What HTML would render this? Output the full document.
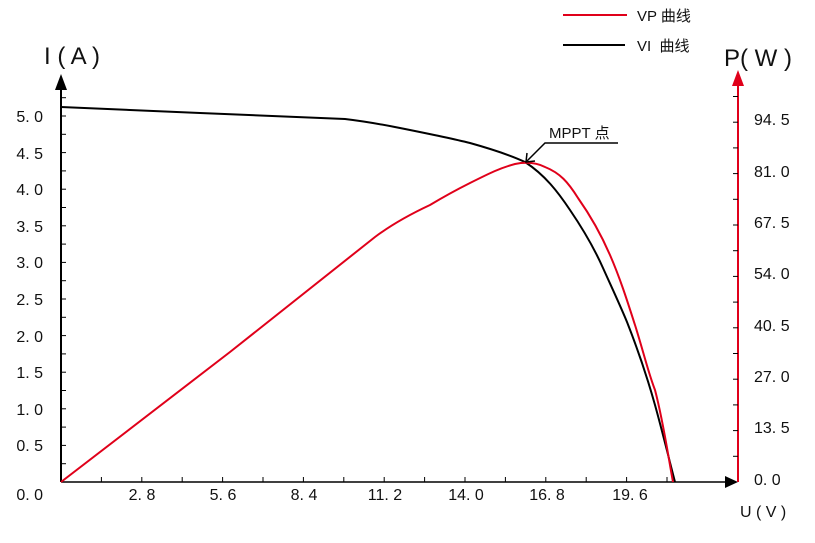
<!DOCTYPE html>
<html><head><meta charset="utf-8"><style>
body{margin:0;background:#fff;}
svg text{font-family:"Liberation Sans","Noto Sans CJK SC",sans-serif;fill:#111;}
</style></head><body>
<svg width="815" height="538" viewBox="0 0 815 538" xmlns="http://www.w3.org/2000/svg">
<g id="ticks"></g>
<!-- left axis -->
<line x1="61" y1="482" x2="61" y2="88" stroke="#000" stroke-width="2"/>
<polygon points="61,74 55,90 67,90" fill="#000"/>
<!-- x axis -->
<line x1="61" y1="482" x2="726" y2="482" stroke="#000" stroke-width="1.5"/>
<polygon points="738,482 725,476 725,488" fill="#000"/>
<!-- right axis -->
<line x1="738" y1="482" x2="738" y2="86" stroke="#e0001a" stroke-width="2"/>
<polygon points="738,70 732,86 744,86" fill="#e0001a"/>
<g stroke="#000" stroke-width="1">
<line x1="61" y1="463.7" x2="66" y2="463.7"/><line x1="61" y1="445.4" x2="66" y2="445.4"/><line x1="61" y1="427.1" x2="66" y2="427.1"/><line x1="61" y1="408.8" x2="66" y2="408.8"/><line x1="61" y1="390.5" x2="66" y2="390.5"/><line x1="61" y1="372.2" x2="66" y2="372.2"/><line x1="61" y1="353.9" x2="66" y2="353.9"/><line x1="61" y1="335.6" x2="66" y2="335.6"/><line x1="61" y1="317.3" x2="66" y2="317.3"/><line x1="61" y1="299" x2="66" y2="299"/><line x1="61" y1="280.7" x2="66" y2="280.7"/><line x1="61" y1="262.4" x2="66" y2="262.4"/><line x1="61" y1="244.1" x2="66" y2="244.1"/><line x1="61" y1="225.8" x2="66" y2="225.8"/><line x1="61" y1="207.5" x2="66" y2="207.5"/><line x1="61" y1="189.2" x2="66" y2="189.2"/><line x1="61" y1="170.9" x2="66" y2="170.9"/><line x1="61" y1="152.6" x2="66" y2="152.6"/><line x1="61" y1="134.3" x2="66" y2="134.3"/><line x1="61" y1="116" x2="66" y2="116"/><line x1="61" y1="97.7" x2="66" y2="97.7"/>
<line x1="101.4" y1="482" x2="101.4" y2="477"/><line x1="141.8" y1="482" x2="141.8" y2="477"/><line x1="182.2" y1="482" x2="182.2" y2="477"/><line x1="222.6" y1="482" x2="222.6" y2="477"/><line x1="263" y1="482" x2="263" y2="477"/><line x1="303.4" y1="482" x2="303.4" y2="477"/><line x1="343.8" y1="482" x2="343.8" y2="477"/><line x1="384.2" y1="482" x2="384.2" y2="477"/><line x1="424.6" y1="482" x2="424.6" y2="477"/><line x1="465" y1="482" x2="465" y2="477"/><line x1="505.4" y1="482" x2="505.4" y2="477"/><line x1="545.8" y1="482" x2="545.8" y2="477"/><line x1="586.2" y1="482" x2="586.2" y2="477"/><line x1="626.6" y1="482" x2="626.6" y2="477"/><line x1="667" y1="482" x2="667" y2="477"/>
<line x1="738" y1="456.3" x2="733" y2="456.3"/><line x1="738" y1="430.6" x2="733" y2="430.6"/><line x1="738" y1="404.9" x2="733" y2="404.9"/><line x1="738" y1="379.2" x2="733" y2="379.2"/><line x1="738" y1="353.5" x2="733" y2="353.5"/><line x1="738" y1="327.8" x2="733" y2="327.8"/><line x1="738" y1="302.1" x2="733" y2="302.1"/><line x1="738" y1="276.4" x2="733" y2="276.4"/><line x1="738" y1="250.7" x2="733" y2="250.7"/><line x1="738" y1="225" x2="733" y2="225"/><line x1="738" y1="199.3" x2="733" y2="199.3"/><line x1="738" y1="173.6" x2="733" y2="173.6"/><line x1="738" y1="147.9" x2="733" y2="147.9"/><line x1="738" y1="122.2" x2="733" y2="122.2"/><line x1="738" y1="96.5" x2="733" y2="96.5"/>
</g>
<g font-size="16">
<text x="43" y="122" text-anchor="end">5. 0</text><text x="43" y="159" text-anchor="end">4. 5</text><text x="43" y="195" text-anchor="end">4. 0</text><text x="43" y="232" text-anchor="end">3. 5</text><text x="43" y="268" text-anchor="end">3. 0</text><text x="43" y="305" text-anchor="end">2. 5</text><text x="43" y="342" text-anchor="end">2. 0</text><text x="43" y="378" text-anchor="end">1. 5</text><text x="43" y="415" text-anchor="end">1. 0</text><text x="43" y="451" text-anchor="end">0. 5</text><text x="43" y="500" text-anchor="end">0. 0</text>
<text x="142" y="500" text-anchor="middle">2. 8</text><text x="223" y="500" text-anchor="middle">5. 6</text><text x="304" y="500" text-anchor="middle">8. 4</text><text x="385" y="500" text-anchor="middle">11. 2</text><text x="466" y="500" text-anchor="middle">14. 0</text><text x="547" y="500" text-anchor="middle">16. 8</text><text x="630" y="500" text-anchor="middle">19. 6</text>
<text x="754" y="125">94. 5</text><text x="754" y="177">81. 0</text><text x="754" y="228">67. 5</text><text x="754" y="279">54. 0</text><text x="754" y="331">40. 5</text><text x="754" y="382">27. 0</text><text x="754" y="433">13. 5</text><text x="754" y="485">0. 0</text>
<text x="740" y="517">U ( V )</text>
</g>
<text x="44" y="64" font-size="24">I ( A )</text>
<text x="724" y="66" font-size="24">P( W )</text>
<!-- legend -->
<line x1="563" y1="15" x2="627" y2="15" stroke="#e0001a" stroke-width="2"/>
<line x1="563" y1="45" x2="625" y2="45" stroke="#000" stroke-width="2"/>
<text x="637" y="21" font-size="15">VP 曲线</text>
<text x="637" y="51" font-size="15">VI&#160; 曲线</text>
<!-- curves -->
<path d="M61,107 L200,113 L345,119 C370,122 385,125 400,128 C430,134 450,138 470,143 C495,150 510,155 525,162 C545,175 558,192 570,210 C585,232 595,250 603,268 C612,288 620,305 627,322 C640,355 648,380 655,405 C662,430 668,455 675,482" fill="none" stroke="#000" stroke-width="2"/>
<path d="M61,482 L230,352 L375,237 C395,222 415,212 430,205 C450,193 460,188 470,183 C490,173 500,168 515,164 C525,162 535,162 545,167 C560,173 568,182 578,198 C590,215 600,232 610,255 C620,278 627,300 635,325 C643,350 648,372 655,390 C663,420 668,455 673,482" fill="none" stroke="#e0001a" stroke-width="2"/>
<!-- MPPT annotation -->
<text x="549" y="138" font-size="15">MPPT 点</text>
<polyline points="618,143 545,143 527,161" fill="none" stroke="#000" stroke-width="1.5"/>
<polyline points="527,153 526,162 535,161" fill="none" stroke="#000" stroke-width="1.5"/>
</svg>
</body></html>
